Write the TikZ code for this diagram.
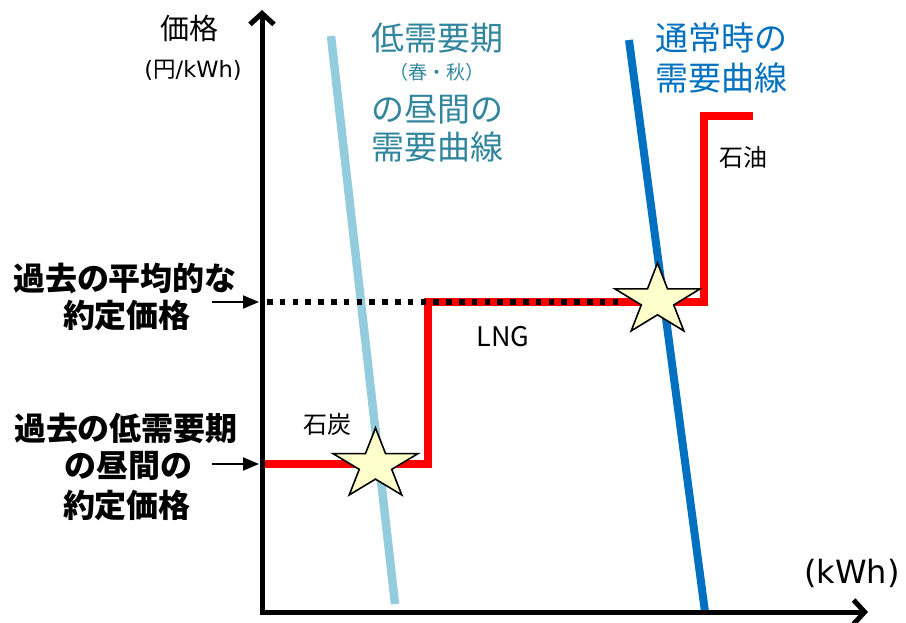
\documentclass[tikz,border=0pt]{standalone}
\usepackage{fontspec}
\setmainfont{Noto Sans CJK JP}
\newfontfamily\dejavu{DejaVu Sans}
\usetikzlibrary{arrows.meta}
\definecolor{ltblue}{HTML}{93CDDD}
\definecolor{tealtxt}{HTML}{31859C}
\definecolor{bluetxt}{HTML}{0070C0}
\definecolor{staryel}{HTML}{FFFFCC}
\definecolor{redline}{HTML}{FF0000}
\tikzset{
  axisline/.style={line width=5pt, black, line join=miter},
  barb/.style={-{Straight Barb[length=11pt,width=24pt]}},
  demandlow/.style={line width=8.5pt, ltblue},
  demandnorm/.style={line width=8pt, bluetxt},
  supply/.style={line width=7.5pt, redline, line join=miter},
  dotline/.style={line width=5.5pt, black, dash pattern=on 5.5pt off 7.3pt},
  ministar/.pic={
    \draw[fill=staryel, draw=black, line width=1.6pt, line join=miter]
      (-90:1) -- (-54:0.382) -- (-18:1) -- (18:0.382) -- (54:1) -- (90:0.382)
      -- (126:1) -- (162:0.382) -- (198:1) -- (234:0.382) -- cycle;
  },
  smallarrow/.style={line width=2pt, black, -{Triangle[length=16pt,width=13pt]}},
  lbl/.style={inner sep=0pt, anchor=center},
}
\begin{document}
\begin{tikzpicture}[x=1pt,y=-1pt]
\useasboundingbox (0,0) rectangle (906,622);

% coordinates
\coordinate (ytip) at (262,10);
\coordinate (orig) at (262,612);
\coordinate (xtip) at (868,612);
\coordinate (lbTop) at (331,36);
\coordinate (lbBot) at (395,604);
\coordinate (bTop) at (629,40);
\coordinate (bBot) at (705,612);
\coordinate (r0) at (262,464);
\coordinate (r1) at (428,464);
\coordinate (r2) at (428,302);
\coordinate (r3) at (704,302);
\coordinate (r4) at (704,116);
\coordinate (r5) at (753,116);
\coordinate (d0) at (267,302);
\coordinate (d1) at (625,302);
\coordinate (a1s) at (212,302);
\coordinate (a1e) at (259,302);
\coordinate (a2s) at (212,464);
\coordinate (a2e) at (259,464);

% demand curves
\draw[demandlow] (lbTop) -- (lbBot);
\draw[demandnorm] (bTop) -- (bBot);

% supply curve
\draw[supply] (r0) -- (r1) -- (r2) -- (r3) -- (r4) -- (r5);
\draw[dotline] (d0) -- (d1);

% axes
\draw[axisline, barb] (orig) -- (ytip);
\draw[axisline, barb] (orig) -- (xtip);
\draw[axisline] (262,600) -- (orig) -- (280,612);

% stars
\pic[xscale=44.7, yscale=37] at (375.5,465) {ministar};
\pic[xscale=44.7, yscale=37.5] at (657.5,300.5) {ministar};

% small arrows
\draw[smallarrow] (a1s) -- (a1e);
\draw[smallarrow] (a2s) -- (a2e);

% axis labels
\node[lbl, font=\fontsize{29}{30}\selectfont] (ylab) at (189,28) {価格};
\node[lbl, font=\fontsize{22.5}{23}\selectfont] (yunit) at (193,70) {{\dejavu (}円{\dejavu /kWh)}};
\node[lbl, font=\dejavu\fontsize{32}{33}\selectfont] (xunit) at (852,573) {(kWh)};

% demand labels
\node[lbl, tealtxt, font=\fontsize{33}{34}\selectfont] (ld1) at (437,38) {低需要期};
\node[lbl, tealtxt, font=\fontsize{19}{20}\selectfont] (ld2) at (437,72) {（春・秋）};
\node[lbl, tealtxt, font=\fontsize{33}{34}\selectfont] (ld3) at (437,110) {の昼間の};
\node[lbl, tealtxt, font=\fontsize{33}{34}\selectfont] (ld4) at (437,147) {需要曲線};
\node[lbl, bluetxt, font=\fontsize{33}{34}\selectfont] (nd1) at (721,38) {通常時の};
\node[lbl, bluetxt, font=\fontsize{33}{34}\selectfont] (nd2) at (721,78) {需要曲線};

% supply labels
\node[lbl, font=\fontsize{24}{25}\selectfont] (oil) at (743,157) {石油};
\node[lbl, font=\fontsize{27}{28}\selectfont] (lng) at (503,337) {LNG};
\node[lbl, font=\fontsize{24}{25}\selectfont] (coal) at (327,424) {石炭};

% left labels
\node[lbl, font=\bfseries\fontsize{32}{33}\selectfont] (p1a) at (125,278) {過去の平均的な};
\node[lbl, font=\bfseries\fontsize{32}{33}\selectfont] (p1b) at (127,315) {約定価格};
\node[lbl, font=\bfseries\fontsize{32}{33}\selectfont] (p2a) at (126,428) {過去の低需要期};
\node[lbl, font=\bfseries\fontsize{32}{33}\selectfont] (p2b) at (128,466) {の昼間の};
\node[lbl, font=\bfseries\fontsize{32}{33}\selectfont] (p2c) at (127,505) {約定価格};
\end{tikzpicture}
\end{document}
